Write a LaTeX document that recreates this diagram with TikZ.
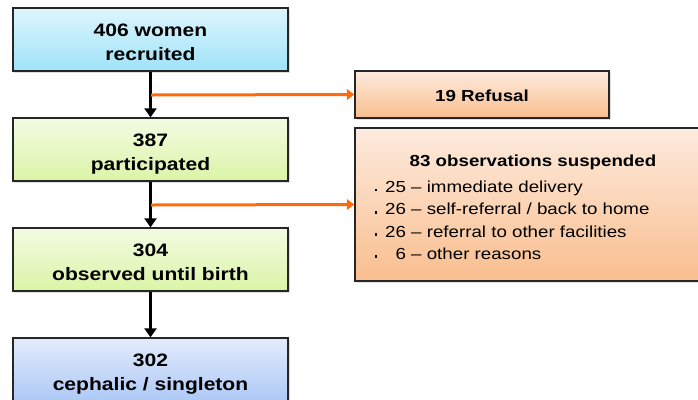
\documentclass[tikz,border=0pt]{standalone}
\usepackage{fontspec}
\setmainfont[FakeStretch=1.17]{Liberation Sans}
\usetikzlibrary{arrows.meta,shadows}
\definecolor{cyanT}{HTML}{DDF6FD}
\definecolor{cyanB}{HTML}{9FE2F8}
\definecolor{greenT}{HTML}{F3FBE2}
\definecolor{greenB}{HTML}{DBF4A6}
\definecolor{blueT}{HTML}{E2EBFB}
\definecolor{blueB}{HTML}{AEC9F6}
\definecolor{orangeT}{HTML}{FDEBDE}
\definecolor{orangeB}{HTML}{F9BE8E}
\definecolor{arrorange}{HTML}{FF6A0A}
\newcommand{\bdot}{\makebox[14bp][l]{\hspace{3.4bp}\rule[1.2bp]{2.6bp}{2.6bp}}}
\tikzset{
  x=1bp,y=-1bp,
  mainbox/.style={draw=black!85, line width=1.3bp, minimum width=275bp, minimum height=63bp,
    inner sep=0pt,
    drop shadow={opacity=0.25, shadow xshift=1.5bp, shadow yshift=-1.5bp}},
  cyanbox/.style={mainbox, top color=cyanT, bottom color=cyanB},
  greenbox/.style={mainbox, top color=greenT, bottom color=greenB},
  bluebox/.style={mainbox, top color=blueT, bottom color=blueB},
  orbox/.style={draw=black!85, line width=1.3bp, inner sep=0pt, top color=orangeT, bottom color=orangeB,
    drop shadow={opacity=0.25, shadow xshift=1.5bp, shadow yshift=-1.5bp}},
  blackarrow/.style={line width=3bp, draw=black, -{Triangle[length=9bp,width=12bp]}},
  orarrow/.style={line width=3bp, draw=arrorange, -{Triangle[length=7.5bp,width=10.5bp]}},
  mtxt/.style={inner sep=0pt, anchor=base, font=\bfseries\fontsize{18bp}{24bp}\selectfont},
  txt/.style={inner sep=0pt, anchor=base west, font=\fontsize{16bp}{20bp}\selectfont},
  btxt/.style={inner sep=0pt, anchor=base, font=\bfseries\fontsize{16bp}{20bp}\selectfont}
}
\begin{document}
\begin{tikzpicture}
\useasboundingbox (0,0) rectangle (698,399);
\node[cyanbox] (a) at (150.5,39.5) {};
\node[mtxt] (a1) at (150.5,36) {406 women};
\node[mtxt] (a2) at (150.5,60) {recruited};
\node[greenbox] (b) at (150.5,149.5) {};
\node[mtxt] (b1) at (150.5,146.5) {387};
\node[mtxt] (b2) at (150.5,170.5) {participated};
\node[greenbox] (c) at (150.5,259.5) {};
\node[mtxt] (c1) at (150.5,256.5) {304};
\node[mtxt] (c2) at (150.5,280.5) {observed until birth};
\node[bluebox] (d) at (150.5,369.5) {};
\node[mtxt] (d1) at (150.5,366.5) {302};
\node[mtxt] (d2) at (150.5,390.5) {cephalic / singleton};
\node[orbox, minimum width=254bp, minimum height=47bp] (r) at (482,94.5) {};
\node[btxt] (rt) at (482,101.7) {19 Refusal};
\node[orbox, minimum width=347bp, minimum height=153bp] (s) at (528.5,204.5) {};
\node[btxt] (st) at (533,166) {83 observations suspended};
\node[txt] (l1) at (371,192.5) {\bdot 25 – immediate delivery};
\node[txt] (l2) at (371,214.8) {\bdot 26 – self-referral / back to home};
\node[txt] (l3) at (371,237) {\bdot 26 – referral to other facilities};
\node[txt] (l4) at (371,259) {\bdot\phantom{2}6 – other reasons};
\coordinate (j1) at (151,95);
\coordinate (j2) at (151,205);
\draw[blackarrow] (a) -- (b);
\draw[blackarrow] (b) -- (c);
\draw[blackarrow] (c) -- (d);
\draw[orarrow] (j1) -- (r.west);
\draw[orarrow] (j2) -- (s.west);
\end{tikzpicture}
\end{document}
